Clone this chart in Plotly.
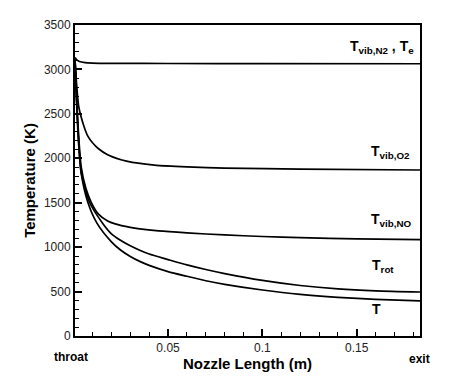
import plotly.graph_objects as go

# ---- data ----
x_n2 = [0.0007, 0.0015, 0.003, 0.006, 0.01, 0.02, 0.05, 0.1, 0.1835]
t_n2 = [3135, 3110, 3090, 3077, 3072, 3069, 3067, 3066, 3064]

x_o2 = [0.0007, 0.0015, 0.0027, 0.0053, 0.0075, 0.01, 0.013, 0.018, 0.0286, 0.0428, 0.06, 0.08, 0.12, 0.1835]
t_o2 = [3110, 2850, 2580, 2370, 2250, 2175, 2110, 2040, 1965, 1924, 1903, 1890, 1878, 1868]

x_no = [0.0007, 0.0015, 0.0025, 0.004, 0.0065, 0.0093, 0.013, 0.018, 0.022, 0.03, 0.035, 0.045, 0.06, 0.08, 0.1, 0.12, 0.15, 0.1835]
t_no = [3110, 2700, 2300, 1900, 1660, 1505, 1375, 1295, 1262, 1222, 1205, 1182, 1160, 1137, 1120, 1106, 1094, 1085]

x_rot = [0.0007, 0.0015, 0.0025, 0.004, 0.0084, 0.0154, 0.02, 0.025, 0.03, 0.035, 0.04, 0.05, 0.06, 0.07, 0.08, 0.1, 0.12, 0.14, 0.16, 0.1835]
t_rot = [3110, 2680, 2250, 1840, 1505, 1267, 1150, 1075, 1015, 965, 922, 860, 800, 748, 702, 625, 568, 530, 508, 495]

x_t = [0.0007, 0.0015, 0.0025, 0.004, 0.0075, 0.0124, 0.02, 0.025, 0.03, 0.035, 0.04, 0.05, 0.06, 0.07, 0.08, 0.1, 0.12, 0.14, 0.16, 0.1835]
t_t = [3110, 2650, 2200, 1831, 1505, 1267, 1060, 965, 895, 840, 795, 725, 672, 622, 582, 518, 468, 435, 413, 396]

y_ticks = [0, 500, 1000, 1500, 2000, 2500, 3000, 3500]
x_ticks = [0.05, 0.1, 0.15]
x_tick_labels = ["0.05", "0.1", "0.15"]

FONT = "Liberation Sans, Arial, sans-serif"

fig = go.Figure()
for xs, ys in [(x_n2, t_n2), (x_o2, t_o2), (x_no, t_no), (x_rot, t_rot), (x_t, t_t)]:
    fig.add_trace(go.Scatter(x=xs, y=ys, mode="lines",
                             line=dict(color="black", width=1.7, shape="spline", smoothing=0.7),
                             showlegend=False, hoverinfo="skip"))

labels = [
    ("<b>T<sub>vib,N2</sub> , T<sub>e</sub></b>", 0.1455, 3250),
    ("<b>T<sub>vib,O2</sub></b>", 0.1565, 2075),
    ("<b>T<sub>vib,NO</sub></b>", 0.1565, 1310),
    ("<b>T<sub>rot</sub></b>", 0.157, 790),
    ("<b>T</b>", 0.157, 305),
]
for txt, xv, yv in labels:
    fig.add_annotation(x=xv, y=yv, xref="x", yref="y", text=txt, showarrow=False,
                       xanchor="left", yanchor="middle",
                       font=dict(family=FONT, size=14, color="black"))

fig.add_annotation(x=-0.013, y=-0.068, xref="paper", yref="paper", text="<b>throat</b>",
                   showarrow=False, xanchor="center", yanchor="middle",
                   font=dict(family=FONT, size=12, color="black"))
fig.add_annotation(x=0.9986, y=-0.075, xref="paper", yref="paper", text="<b>exit</b>",
                   showarrow=False, xanchor="center", yanchor="middle",
                   font=dict(family=FONT, size=12, color="black"))

fig.update_layout(
    width=450, height=383,
    margin=dict(l=67, r=38, t=17, b=55),
    paper_bgcolor="white", plot_bgcolor="white",
    font=dict(family=FONT, size=12, color="#222"),
    xaxis=dict(range=[0.0007, 0.1835], tickvals=x_ticks, ticktext=x_tick_labels,
               ticks="inside", ticklen=7, tickwidth=2, tickcolor="black",
               minor=dict(dtick=0.01, tick0=0, ticks="inside", ticklen=4, tickwidth=1, tickcolor="black"),
               showline=True, linecolor="black", linewidth=2, mirror=True,
               showgrid=False, zeroline=False, automargin=False,
               title=dict(text="<b>Nozzle Length (m)</b>", font=dict(size=15, color="black"), standoff=0)),
    yaxis=dict(range=[0, 3500], tickvals=y_ticks,
               ticks="inside", ticklen=7, tickwidth=2, tickcolor="black",
               minor=dict(dtick=100, tick0=0, ticks="inside", ticklen=4, tickwidth=1, tickcolor="black"),
               showline=True, linecolor="black", linewidth=2, mirror=True,
               showgrid=False, zeroline=False, automargin=False,
               title=dict(text="<b>Temperature (K)</b>", font=dict(size=15, color="black"), standoff=5)),
)

fig.write_html("out.html")
